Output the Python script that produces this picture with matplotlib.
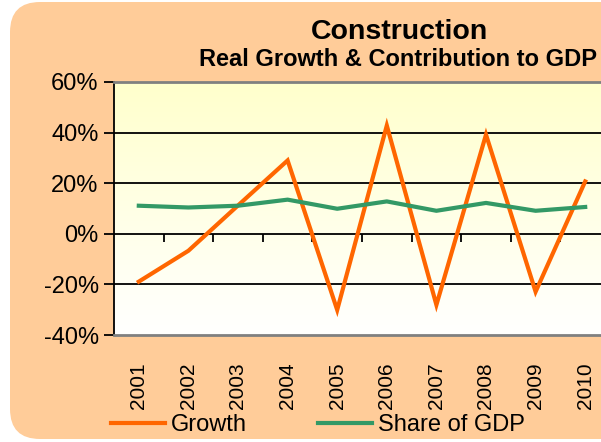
import matplotlib
matplotlib.use("Agg")
import matplotlib.pyplot as plt
import numpy as np
from matplotlib.patches import FancyBboxPatch

years = ["2001", "2002", "2003", "2004", "2005", "2006", "2007", "2008", "2009", "2010"]
growth = [-18.9, -6.7, 11.2, 29.0, -30.1, 42.8, -28.1, 39.2, -22.9, 20.7]
share_of_gdp = [11.1, 10.4, 11.1, 13.5, 9.9, 12.8, 9.1, 12.2, 9.1, 10.6]
y_ticks = [-40, -20, 0, 20, 40, 60]

plt.rcParams["font.family"] = ["Liberation Sans", "DejaVu Sans"]

W, H = 601, 442
fig = plt.figure(figsize=(W / 100, H / 100), dpi=100)
fig.patch.set_facecolor("white")

# rounded orange chart area (runs off the right edge like the original)
bg = FancyBboxPatch((10 / W, 3 / H), 780 / W, 437 / H,
                    boxstyle="round,pad=0,rounding_size=0.05",
                    transform=fig.transFigure, facecolor="#FFCC99",
                    edgecolor="none", zorder=-5, mutation_aspect=W / H)
fig.patches.append(bg)

left, top, right, bottom = 114, 82, 610, 335
ax = fig.add_axes([left / W, 1 - bottom / H, (right - left) / W, (bottom - top) / H])

x = np.arange(len(years))

# light yellow to white gradient in the plot area
grad = np.linspace(0, 1, 256).reshape(-1, 1)
top_c = np.array([1.0, 1.0, 0.8])
bot_c = np.array([1.0, 1.0, 1.0])
img = top_c * (1 - grad[..., None]) + bot_c * grad[..., None]
ax.imshow(img, extent=[0, 1, 0, 1], transform=ax.transAxes, aspect="auto", zorder=0)

for v in y_ticks[1:-1]:
    ax.axhline(v, color="black", lw=1.3, zorder=1)

ax.plot(x, growth, color="#FF6600", lw=3, zorder=3, label="Growth", solid_joinstyle="miter")
ax.plot(x, share_of_gdp, color="#339966", lw=3, zorder=3, label="Share of GDP")

ax.set_xlim(-0.5, len(years) - 0.5)
ax.set_ylim(-40, 60)

ax.set_yticks(y_ticks)
ax.set_yticklabels([f"{v}%" for v in y_ticks], fontsize=17)
ax.tick_params(axis="y", direction="out", length=7, width=1.3, pad=4)

ax.set_xticks(x)
ax.set_xticklabels(years, rotation=90, fontsize=15)
ax.tick_params(axis="x", length=0, pad=20)

for s in ["top", "bottom"]:
    ax.spines[s].set_color("#808080")
    ax.spines[s].set_linewidth(2)
ax.spines["left"].set_color("black")
ax.spines["left"].set_linewidth(1.3)
ax.spines["right"].set_visible(False)

# category axis crosses at 0% with tick marks between categories
sec = ax.secondary_xaxis(0.4)
sec.set_xticks(x[:-1] + 0.5)
sec.set_xticklabels([])
sec.tick_params(direction="out", length=6, width=1.3)
sec.spines["bottom"].set_visible(False)

fig.text(400 / W, 1 - 32 / H, "Construction", ha="center", va="center",
         fontsize=20.5, fontweight="bold")
fig.text(398 / W, 1 - 59 / H, "Real Growth & Contribution to GDP", ha="center", va="center",
         fontsize=17, fontweight="bold")

leg = fig.legend(loc="center left", bbox_to_anchor=(111 / W, 1 - 425 / H), ncol=2,
                 frameon=False, fontsize=17, handlelength=2.3, handletextpad=0.25,
                 columnspacing=3.0, borderaxespad=0, borderpad=0)

fig.savefig("out.png", dpi=100, facecolor=fig.get_facecolor())
